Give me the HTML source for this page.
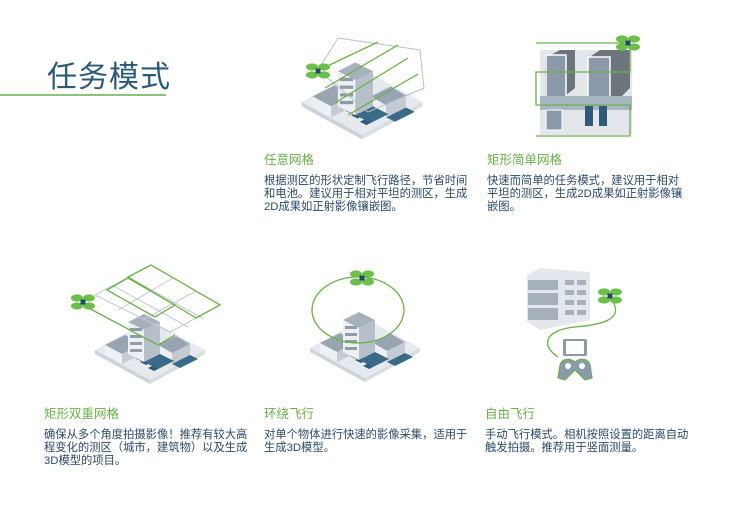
<!DOCTYPE html>
<html><head><meta charset="utf-8"><style>
html,body{margin:0;padding:0;background:#fff;}
body{width:750px;height:529px;position:relative;overflow:hidden;font-family:"Liberation Sans","Noto Sans CJK SC",sans-serif;}
.t{position:absolute;left:47px;top:52px;font-size:30px;color:#2b5a78;letter-spacing:1px;}
.ln{position:absolute;left:0;top:94px;width:166px;height:2px;background:#8cc47a;}
.h{position:absolute;font-size:12.5px;color:#6bb04a;}
.p{position:absolute;font-size:11.3px;line-height:13px;color:#2b4a66;white-space:nowrap;}
svg{position:absolute;left:0;top:0;}
</style></head><body>
<svg width="750" height="529" viewBox="0 0 750 529">
<defs>
<g id="drone">
<ellipse cx="-6" cy="-4" rx="6" ry="3.6" fill="#6cc04a"/><ellipse cx="6" cy="-4" rx="6" ry="3.6" fill="#6cc04a"/>
<ellipse cx="-6" cy="4" rx="6" ry="3.6" fill="#6cc04a"/><ellipse cx="6" cy="4" rx="6" ry="3.6" fill="#6cc04a"/>
<rect x="-2.5" y="-2.5" width="5" height="5" fill="#1e4a66"/>
</g>
<g id="city">
<polygon points="-55,0 0,-30 55,0 0,30" fill="#e6e9ed"/>
<polygon points="-55,0 0,30 0,34 -55,4" fill="#cdd3da"/>
<polygon points="55,0 0,30 0,34 55,4" fill="#d8dde2"/>
<polygon points="-45,-5 -25,-15 -8,-6 -28,4" fill="#98a4b1"/>
<polygon points="-45,-5 -28,4 -28,14 -45,5" fill="#eef0f3"/>
<polygon points="-28,4 -8,-6 -8,4 -28,14" fill="#c4cbd3"/>
<polygon points="8,-5 26,-14 40,-6 22,3" fill="#98a4b1"/>
<polygon points="8,-5 22,3 22,14 8,6" fill="#eef0f3"/>
<polygon points="22,3 40,-6 40,5 22,14" fill="#c4cbd3"/>
<polygon points="-10,12 -4,9 2,12 -4,15" fill="#2f5b78"/>
<polygon points="-2,18 4,15 10,18 4,21" fill="#2f5b78"/>
<polygon points="-15,8 -9,5 -3,8 -9,11" fill="#2f5b78"/>
<polygon points="22,14 40,5 48,9 30,18" fill="#3a6a88"/>
<polygon points="-22,-28 -6,-36 10,-28 -6,-20" fill="#a7b1bc"/>
<polygon points="-22,-28 -6,-20 -6,12 -22,4" fill="#eef0f3"/>
<polygon points="-6,-20 10,-28 10,4 -6,12" fill="#b7c0ca"/>
<g fill="#8f9cab"><rect x="-20" y="-22" width="12" height="3"/><rect x="-20" y="-15" width="12" height="3"/><rect x="-20" y="-8" width="12" height="3"/><rect x="-20" y="-1" width="12" height="3"/></g>
<polygon points="-6,12 10,4 24,11 8,19" fill="#3a6a88"/>
</g>
</defs>

<use href="#city" transform="translate(362,102) scale(1.1)"/>
<polygon points="338,38 420,50 424,88 368,112 318,70" fill="none" stroke="#b9c0c8" stroke-width="1"/>
<g stroke="#6bb04a" stroke-width="1.3" fill="none">
<line x1="317" y1="71" x2="378" y2="42"/><line x1="325" y1="88" x2="398" y2="45"/>
<line x1="335" y1="103" x2="408" y2="58"/><line x1="348" y1="115" x2="418" y2="74"/>
</g>
<use href="#drone" transform="translate(318,71)"/>

<rect x="540" y="50" width="92" height="85" fill="#e3e7eb"/>
<polygon points="545,58 560,50 575,50 575,88 560,100 545,100" fill="#6d747c"/>
<polygon points="588,58 600,50 630,50 630,88 618,100 588,100" fill="#6d747c"/>
<rect x="546" y="55" width="20" height="45" fill="#8a9aab" stroke="#fff" stroke-width="1.5"/>
<rect x="588" y="57" width="22" height="42" fill="#8a9aab" stroke="#fff" stroke-width="1.5"/>
<rect x="540" y="96" width="92" height="14" fill="#a8b6c2"/>
<rect x="546" y="110" width="16" height="20" fill="#8a9aab" stroke="#fff" stroke-width="1"/>
<rect x="585" y="106" width="8" height="20" fill="#2f5b78"/><rect x="599" y="106" width="8" height="20" fill="#2f5b78"/>
<polyline points="536,43 630,43 630,72 536,72 536,105 630,105 630,136 536,136" fill="none" stroke="#6bb04a" stroke-width="1.3"/>
<use href="#drone" transform="translate(628,43)"/>

<use href="#city" transform="translate(150,350)"/>
<g stroke="#c4cad1" stroke-width="1" fill="none">
<polygon points="151,265 220,305 170,332 95,295"/>
<line x1="112" y1="285" x2="188" y2="327"/><line x1="128" y1="277" x2="204" y2="319"/>
<line x1="173" y1="278" x2="118" y2="310"/><line x1="196" y1="291" x2="143" y2="320"/>
</g>
<g stroke="#6bb04a" stroke-width="1.3" fill="none">
<polygon points="128,277 151,265 220,305 196,318"/>
<polygon points="107,290 128,278 175,305 155,317"/>
<line x1="83" y1="305" x2="158" y2="345"/><line x1="158" y1="345" x2="175" y2="335"/>
</g>
<use href="#drone" transform="translate(83,302)"/>

<use href="#city" transform="translate(365,348)"/>
<ellipse cx="358" cy="310" rx="46" ry="33" fill="none" stroke="#6bb04a" stroke-width="1.3"/>
<use href="#drone" transform="translate(362,278)"/>

<polygon points="527,275 540,268 590,272 590,320 540,330 527,322" fill="#e4e8ec"/>
<rect x="528" y="280" width="30" height="10" fill="#a6b1bd"/><rect x="528" y="293" width="30" height="12" fill="#a6b1bd"/><rect x="528" y="308" width="30" height="12" fill="#a6b1bd"/>
<g fill="#a6b1bd"><rect x="565" y="280" width="9" height="5"/><rect x="577" y="280" width="9" height="5"/><rect x="565" y="290" width="9" height="5"/><rect x="577" y="290" width="9" height="5"/><rect x="565" y="300" width="9" height="5"/><rect x="577" y="300" width="9" height="5"/><rect x="565" y="310" width="9" height="5"/><rect x="577" y="310" width="9" height="5"/></g>
<path d="M612,300 C625,320 600,325 575,327 C545,330 540,345 558,357" fill="none" stroke="#6bb04a" stroke-width="1.3"/>
<use href="#drone" transform="translate(610,296)"/>
<rect x="563" y="339" width="24" height="17" rx="2" fill="#8a9aab"/><rect x="566" y="341" width="18" height="13" fill="#fff"/>
<path d="M560,365 C562,358 570,358 575,362 C580,358 588,358 590,365 L592,378 L585,380 L575,370 L565,380 L558,378 Z" fill="#8a9aab" stroke="#6bb04a" stroke-width="1.2"/>
<circle cx="568" cy="366" r="3" fill="#fff"/><circle cx="582" cy="366" r="3" fill="#fff"/>
</svg>

<div class="t">任务模式</div><div class="ln"></div>

<div class="h" style="left:264px;top:149px">任意网格</div>
<div class="p" style="left:264px;top:175px">根据测区的形状定制飞行路径，节省时间<br>和电池。建议用于相对平坦的测区，生成<br>2D成果如正射影像镶嵌图。</div>
<div class="h" style="left:487px;top:149px">矩形简单网格</div>
<div class="p" style="left:487px;top:175px">快速而简单的任务模式，建议用于相对<br>平坦的测区，生成2D成果如正射影像镶<br>嵌图。</div>

<div class="h" style="left:44px;top:403px">矩形双重网格</div>
<div class="p" style="left:44px;top:429px">确保从多个角度拍摄影像！推荐有较大高<br>程变化的测区（城市，建筑物）以及生成<br>3D模型的项目。</div>
<div class="h" style="left:264px;top:403px">环绕飞行</div>
<div class="p" style="left:264px;top:429px">对单个物体进行快速的影像采集，适用于<br>生成3D模型。</div>
<div class="h" style="left:485px;top:403px">自由飞行</div>
<div class="p" style="left:485px;top:429px">手动飞行模式。相机按照设置的距离自动<br>触发拍摄。推荐用于竖面测量。</div>
</body></html>
